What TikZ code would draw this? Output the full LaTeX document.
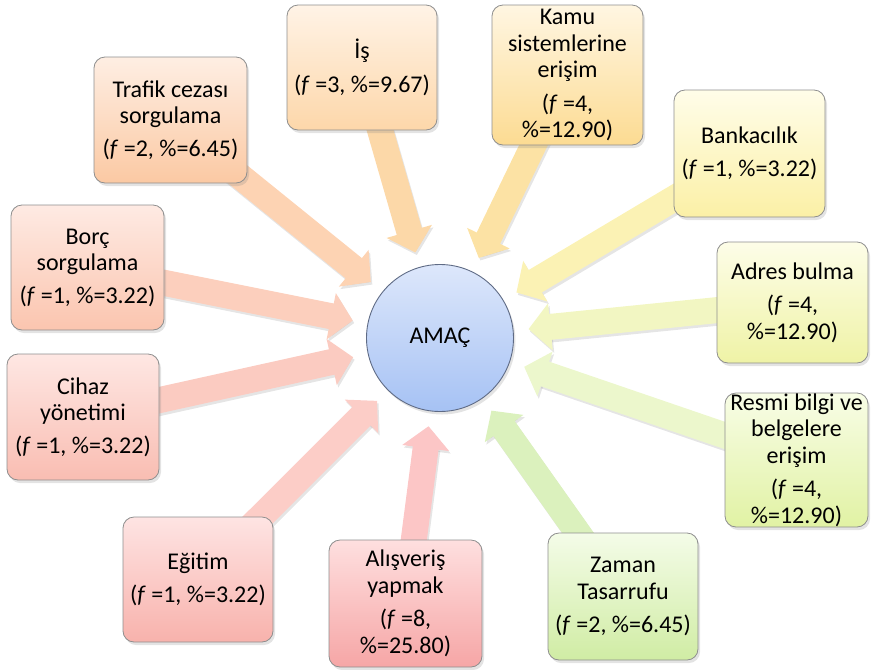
\documentclass[tikz,border=0pt]{standalone}
\usepackage{fontspec}
\setmainfont{Carlito}
\usetikzlibrary{arrows.meta,shadows}
\pgfdeclarelayer{arrowlayer}
\pgfsetlayers{arrowlayer,main}

% box gradients (top / bottom)
\definecolor{isT}{HTML}{FFF3E6}      \definecolor{isB}{HTML}{FDD7AA}
\definecolor{kamuT}{HTML}{FFF6E2}    \definecolor{kamuB}{HTML}{FCDB92}
\definecolor{trafikT}{HTML}{FEEEE3}  \definecolor{trafikB}{HTML}{FBC9A3}
\definecolor{bankT}{HTML}{FFFDE9}    \definecolor{bankB}{HTML}{FBF0A6}
\definecolor{borcT}{HTML}{FEEAE3}    \definecolor{borcB}{HTML}{FBC5AF}
\definecolor{adresT}{HTML}{FDFDE8}   \definecolor{adresB}{HTML}{EFF3A6}
\definecolor{cihazT}{HTML}{FEE7E3}   \definecolor{cihazB}{HTML}{F9BDB2}
\definecolor{resmiT}{HTML}{F8FDE6}   \definecolor{resmiB}{HTML}{E1F2A4}
\definecolor{egitimT}{HTML}{FEE4E3}  \definecolor{egitimB}{HTML}{F8B2AC}
\definecolor{alisT}{HTML}{FEDFDF}    \definecolor{alisB}{HTML}{F6A6A6}
\definecolor{zamanT}{HTML}{F4FCE8}   \definecolor{zamanB}{HTML}{D0ECA4}
\definecolor{amacT}{HTML}{DDE7FB}    \definecolor{amacB}{HTML}{A6C2F4}
% block arrow fills
\definecolor{isA}{HTML}{FCD8A8}
\definecolor{kamuA}{HTML}{FCE2A4}
\definecolor{trafikA}{HTML}{FDD3B3}
\definecolor{bankA}{HTML}{FBF2B4}
\definecolor{borcA}{HTML}{FCCFBD}
\definecolor{adresA}{HTML}{F2F6C2}
\definecolor{cihazA}{HTML}{FBCBC1}
\definecolor{resmiA}{HTML}{ECF7CC}
\definecolor{egitimA}{HTML}{FCCDC7}
\definecolor{alisA}{HTML}{FCC6C6}
\definecolor{zamanA}{HTML}{DBF1BD}
\definecolor{boxline}{HTML}{8E8E8E}
\definecolor{circline}{HTML}{5F6B85}

\begin{document}
\begin{tikzpicture}[x=1pt,y=-1pt,
  box/.style={draw=boxline, line width=0.8pt, rounded corners=11pt,
    inner sep=0pt, align=flush center,
    font=\fontsize{24}{26.5}\selectfont,
    drop shadow={shadow xshift=2pt,shadow yshift=-3pt,opacity=0.22}},
  blockarrow/.style={line width=26pt,
    -{Triangle[length=22pt,width=46pt]}, shorten >=15pt},
  arrowshade/.style={blockarrow, draw=black, opacity=0.10,
    transform canvas={shift={(1.5pt,-2.5pt)}}},
]
\useasboundingbox (0,0) rectangle (871,670);

% goal in the centre
\node[circle, draw=circline, line width=0.9pt, minimum size=147pt,
  top color=amacT, bottom color=amacB, font=\fontsize{24}{26.5}\selectfont,
  drop shadow={shadow xshift=2pt,shadow yshift=-3pt,opacity=0.22}]
  (amac) at (440,338) {AMAÇ};

% purposes around it
\node[box, top color=isT, bottom color=isB,
  minimum width=150pt, minimum height=125pt, text width=146pt]
  (is) at (362,67.5) {İş\\[7pt](\textit{f} =3, \%=9.67)};
\node[box, top color=kamuT, bottom color=kamuB,
  minimum width=151pt, minimum height=140pt, text width=147pt]
  (kamu) at (567.5,75) {Kamu\\sistemlerine\\erişim\\[7pt](\textit{f} =4,\\\%=12.90)};
\node[box, top color=trafikT, bottom color=trafikB,
  minimum width=153pt, minimum height=126pt, text width=149pt]
  (trafik) at (170.5,120) {Trafik cezası\\sorgulama\\[6pt](\textit{f} =2, \%=6.45)};
\node[box, top color=bankT, bottom color=bankB,
  minimum width=151pt, minimum height=127pt, text width=147pt]
  (bank) at (749.5,153.5) {Bankacılık\\[7pt](\textit{f} =1, \%=3.22)};
\node[box, top color=borcT, bottom color=borcB,
  minimum width=153pt, minimum height=125pt, text width=149pt]
  (borc) at (87.5,267.5) {Borç\\sorgulama\\[6pt](\textit{f} =1, \%=3.22)};
\node[box, top color=adresT, bottom color=adresB,
  minimum width=151pt, minimum height=121pt, text width=147pt]
  (adres) at (792.5,302.5) {Adres bulma\\[7pt](\textit{f} =4,\\\%=12.90)};
\node[box, top color=cihazT, bottom color=cihazB,
  minimum width=152pt, minimum height=126pt, text width=148pt]
  (cihaz) at (83,417) {Cihaz\\yönetimi\\[6pt](\textit{f} =1, \%=3.22)};
\node[box, top color=resmiT, bottom color=resmiB,
  minimum width=143pt, minimum height=134pt, text width=143pt]
  (resmi) at (796.5,460) {Resmi bilgi ve\\belgelere\\erişim\\[7pt](\textit{f} =4,\\\%=12.90)};
\node[box, top color=egitimT, bottom color=egitimB,
  minimum width=150pt, minimum height=125pt, text width=146pt]
  (egitim) at (198,579.5) {Eğitim\\[7pt](\textit{f} =1, \%=3.22)};
\node[box, top color=alisT, bottom color=alisB,
  minimum width=153pt, minimum height=127pt, text width=149pt]
  (alis) at (405.5,603.5) {Alışveriş\\yapmak\\[7pt](\textit{f} =8,\\\%=25.80)};
\node[box, top color=zamanT, bottom color=zamanB,
  minimum width=150pt, minimum height=127pt, text width=146pt]
  (zaman) at (623,596.5) {Zaman\\Tasarrufu\\[7pt](\textit{f} =2, \%=6.45)};

% block arrows pointing at the goal, behind the boxes
\begin{pgfonlayer}{arrowlayer}
\foreach \b/\c in {is/isA, kamu/kamuA, trafik/trafikA, bank/bankA,
  borc/borcA, adres/adresA, cihaz/cihazA, resmi/resmiA,
  egitim/egitimA, alis/alisA, zaman/zamanA} {
  \draw[arrowshade] (\b.center) -- (amac);
  \draw[blockarrow, draw=\c] (\b.center) -- (amac);
}
\end{pgfonlayer}
\end{tikzpicture}
\end{document}
